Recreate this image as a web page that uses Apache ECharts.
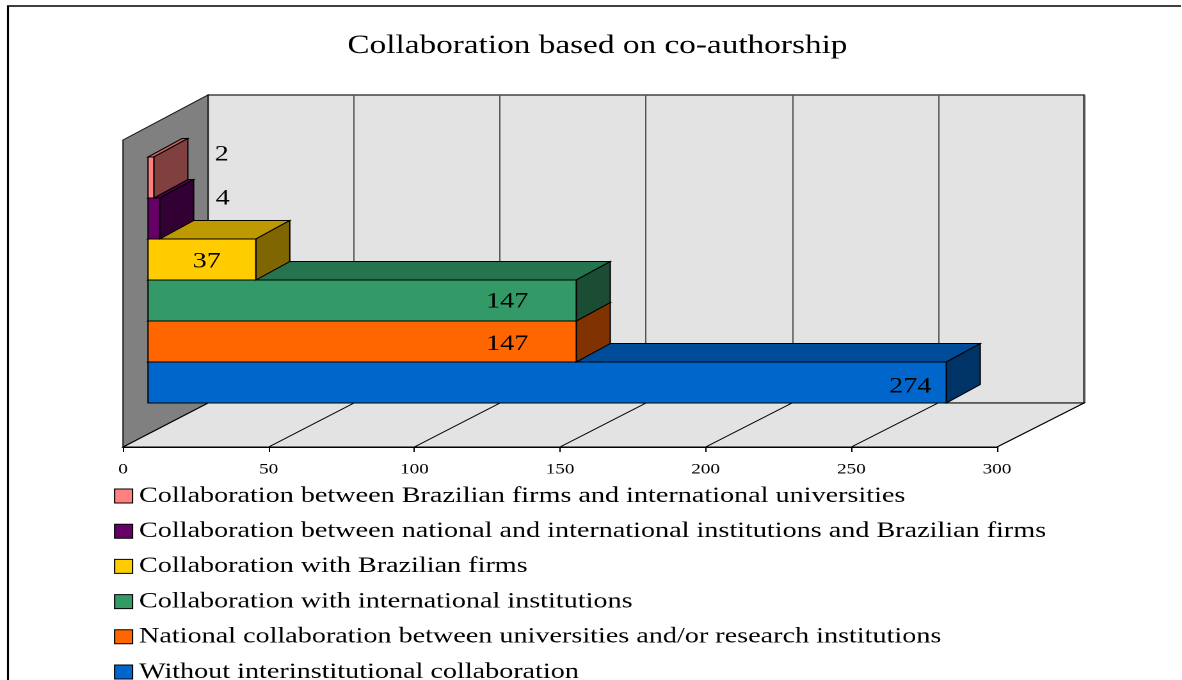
<!DOCTYPE html>
<html>
<head>
<meta charset="utf-8">
<title>Collaboration based on co-authorship</title>
<script src="https://cdn.jsdelivr.net/npm/echarts/dist/echarts.min.js"></script>
<style>
  html, body { margin: 0; padding: 0; background: #ffffff; overflow: hidden; }
  #chart { height: 680px; transform-origin: 0 0; }
</style>
</head>
<body>
<div id="chart"></div>
<script>
// ---- data ----
const chartTitle = 'Collaboration based on co-authorship';
const seriesNames = [
  'Collaboration between Brazilian firms and international universities',
  'Collaboration between national and international institutions and Brazilian firms',
  'Collaboration with Brazilian firms',
  'Collaboration with international institutions',
  'National collaboration between universities and/or research institutions',
  'Without interinstitutional collaboration'
];
const values = [2, 4, 37, 147, 147, 274];
const valueTicks = [0, 50, 100, 150, 200, 250, 300];

// ---- styles: front / top / side shades of each bar ----
const frontColors = ['#FF8080', '#660066', '#FFCC00', '#339966', '#FF6600', '#0066CC'];
const topColors   = ['#BF6060', '#4C004C', '#BF9900', '#267350', '#BF4C00', '#004C99'];
const sideColors  = ['#804040', '#330033', '#806600', '#1A4D33', '#803300', '#003366'];

// ---- layout (page pixels); the drawing is widened horizontally by S ----
const S = 1.28;
const W = 1182 / S;
const FRONT = { left: 123, right: 997, top: 140, bottom: 447 };
const BACK  = { left: 208, right: 1084, top: 95, bottom: 403 };
const BARS  = { left: 148, top: 157, bottom: 403, depthX: 34, depthY: -18.5 };
// label anchor shift from the bar's end (x) and middle (y)
const labelShift = [[68, -23], [63, -20], [-49, 2], [-69, 1], [-69, 2.5], [-36, 4]];
const SERIF = "'Liberation Serif', 'Times New Roman', 'DejaVu Serif', serif";

const el = document.getElementById('chart');
el.style.width = W + 'px';
el.style.transform = 'scaleX(' + S + ')';
const chart = echarts.init(el, null, { devicePixelRatio: 2 });

const tickStep = valueTicks[1] - valueTicks[0];
const vMin = valueTicks[0];
const vMax = valueTicks[valueTicks.length - 1];
const scale = (FRONT.right - FRONT.left) / S / (vMax - vMin);

// side wall, floor and floor grid lines
function renderRoom(params, api) {
  const cs = params.coordSys;
  const L = cs.x, R = cs.x + cs.width, T = cs.y, B = cs.y + cs.height;
  const bL = BACK.left / S, bR = BACK.right / S, bT = BACK.top, bB = BACK.bottom;
  const children = [
    {
      type: 'polygon',
      shape: { points: [[L, B], [R, B], [bR, bB], [bL, bB]] },
      style: { fill: '#E3E3E3', stroke: '#000', lineWidth: 1 }
    },
    {
      type: 'polygon',
      shape: { points: [[L, T], [bL, bT], [bL, bB], [L, B]] },
      style: { fill: '#808080', stroke: '#1a1a1a', lineWidth: 1 }
    }
  ];
  valueTicks.forEach(function (v) {
    const xf = api.coord([v, 0])[0];
    const xb = bL + (xf - L) * (bR - bL) / (R - L);
    children.push({
      type: 'line',
      shape: { x1: xf, y1: B, x2: xb, y2: bB },
      style: { stroke: '#000', lineWidth: 1 }
    });
  });
  return { type: 'group', children: children };
}

// one 3D bar: top face, right face, front face and its value label
function makeBarRenderer(i) {
  return function (params, api) {
    const v = api.value(0), c = api.value(1);
    const p0 = api.coord([0, c]);
    const p1 = api.coord([v, c]);
    const h = api.size([0, 1])[1];
    const yt = p0[1] - h / 2, yb = p0[1] + h / 2;
    const x0 = p0[0], x1 = p1[0];
    const dx = BARS.depthX / S, dy = BARS.depthY;
    const edge = { stroke: '#000', lineWidth: 1 };
    return {
      type: 'group',
      children: [
        {
          type: 'polygon',
          shape: { points: [[x0, yt], [x1, yt], [x1 + dx, yt + dy], [x0 + dx, yt + dy]] },
          style: Object.assign({ fill: topColors[i] }, edge)
        },
        {
          type: 'polygon',
          shape: { points: [[x1, yt], [x1 + dx, yt + dy], [x1 + dx, yb + dy], [x1, yb]] },
          style: Object.assign({ fill: sideColors[i] }, edge)
        },
        {
          type: 'rect',
          shape: { x: x0, y: yt, width: x1 - x0, height: yb - yt },
          style: Object.assign({ fill: frontColors[i] }, edge)
        },
        {
          type: 'text',
          z2: 10,
          style: {
            text: String(values[i]),
            x: x1 + labelShift[i][0] / S,
            y: (yt + yb) / 2 + labelShift[i][1],
            align: 'center',
            verticalAlign: 'middle',
            fontFamily: SERIF,
            fontSize: 22,
            fill: '#000'
          }
        }
      ]
    };
  };
}

// bottom bar first so the bars above sit on top of it
const barSeries = [];
for (let i = seriesNames.length - 1; i >= 0; i--) {
  barSeries.push({
    type: 'custom',
    name: seriesNames[i],
    xAxisIndex: 2,
    yAxisIndex: 2,
    clip: false,
    z: 3,
    itemStyle: { color: frontColors[i], borderColor: '#000', borderWidth: 1 },
    renderItem: makeBarRenderer(i),
    encode: { x: 0, y: 1 },
    data: [[values[i], i]]
  });
}

const option = {
  animation: false,
  backgroundColor: '#ffffff',
  title: {
    text: chartTitle,
    left: 591 / S,
    textAlign: 'center',
    top: 28,
    textStyle: { fontFamily: SERIF, fontSize: 26, fontWeight: 'normal', color: '#000' }
  },
  legend: {
    orient: 'vertical',
    left: 114 / S,
    top: 485,
    height: 400,
    padding: 0,
    itemWidth: 14,
    itemHeight: 14,
    itemGap: 13.2,
    icon: 'rect',
    selectedMode: false,
    data: seriesNames,
    itemStyle: { borderColor: '#000', borderWidth: 1 },
    textStyle: { fontFamily: SERIF, fontSize: 22, lineHeight: 22, color: '#000' }
  },
  graphic: [
    {
      type: 'rect',
      silent: true,
      shape: { x: 8 / S, y: 6, width: 2000, height: 2000 },
      style: { fill: 'none', stroke: '#000', lineWidth: 1.6 },
      z: -1
    }
  ],
  grid: [
    { // front edge of the floor, carries the value axis
      left: FRONT.left / S, top: FRONT.top,
      width: (FRONT.right - FRONT.left) / S, height: FRONT.bottom - FRONT.top
    },
    { // back wall
      left: BACK.left / S, top: BACK.top,
      width: (BACK.right - BACK.left) / S, height: BACK.bottom - BACK.top,
      show: true, backgroundColor: '#E3E3E3', borderColor: '#222', borderWidth: 1.3
    },
    { // plane of the bars' front faces
      left: BARS.left / S, top: BARS.top,
      width: (vMax - vMin) * scale, height: BARS.bottom - BARS.top
    }
  ],
  xAxis: [
    {
      gridIndex: 0, type: 'value', min: vMin, max: vMax, interval: tickStep,
      axisLine: { show: true, lineStyle: { color: '#000', width: 1 } },
      axisTick: { show: true, length: 5, lineStyle: { color: '#000' } },
      splitLine: { show: false },
      axisLabel: { margin: 15, fontFamily: SERIF, fontSize: 15, color: '#000' }
    },
    {
      gridIndex: 1, type: 'value', min: vMin, max: vMax, interval: tickStep,
      axisLine: { show: false }, axisTick: { show: false }, axisLabel: { show: false },
      splitLine: { show: true, lineStyle: { color: '#555', width: 1 } }
    },
    {
      gridIndex: 2, type: 'value', min: vMin, max: vMax, interval: tickStep, show: false
    }
  ],
  yAxis: [
    { gridIndex: 0, type: 'value', min: 0, max: 1, show: false },
    { gridIndex: 1, type: 'value', min: 0, max: 1, show: false, splitLine: { show: false } },
    { gridIndex: 2, type: 'category', data: seriesNames, inverse: true, show: false }
  ],
  series: [
    {
      type: 'custom',
      name: 'room',
      xAxisIndex: 0,
      yAxisIndex: 0,
      clip: false,
      silent: true,
      z: 1,
      renderItem: renderRoom,
      data: [[0, 0]]
    }
  ].concat(barSeries)
};

chart.setOption(option);
</script>
</body>
</html>
